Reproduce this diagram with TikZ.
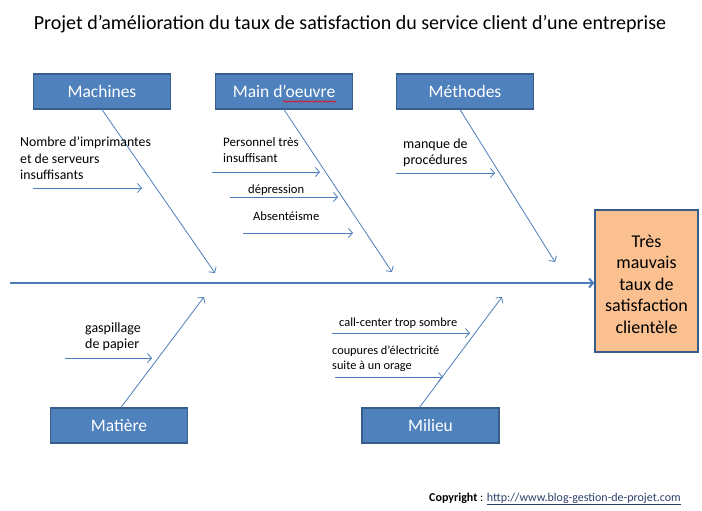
\documentclass[tikz,border=0pt]{standalone}
\usepackage{fontspec}
\setmainfont{Carlito}
\usetikzlibrary{arrows.meta,decorations.pathmorphing}
\definecolor{boxblue}{HTML}{4F81BD}
\definecolor{boxborder}{HTML}{385D8A}
\definecolor{bonecol}{HTML}{4A7EBB}
\definecolor{effectfill}{HTML}{FAC090}
\definecolor{urlcol}{HTML}{2B3F6B}
\begin{document}
\begin{tikzpicture}[x=1pt,y=-1pt,
  catbox/.style={draw=boxborder, line width=1.2pt, fill=boxblue, minimum width=137pt, minimum height=35pt, text=white, font=\fontsize{17.5}{20}\selectfont, inner sep=0pt},
  effbox/.style={draw=boxborder, line width=1.2pt, fill=effectfill, minimum width=103pt, minimum height=142pt, font=\fontsize{18}{21.4}\selectfont, inner sep=0pt},
  bone/.style={draw=bonecol, line width=0.8pt, -{Straight Barb[length=4pt,width=9pt]}},
  spinestyle/.style={draw=bonecol, line width=2pt, -{Straight Barb[length=4pt,width=9pt]}},
  causearrow/.style={draw=bonecol, line width=0.8pt, -{Straight Barb[length=4pt,width=9pt]}},
  causetxt/.style={align=left, anchor=north west, inner sep=0pt, text=black}
]
\useasboundingbox (0,0) rectangle (702,511);

% title
\node[font=\fontsize{20}{24}\selectfont] (title) at (350,24) {Projet d’amélioration du taux de satisfaction du service client d’une entreprise};

% category boxes
\node[catbox] (mach) at (102,91.5) {Machines};
\node[catbox] (mdo) at (284,91.5) {Main d’oeuvre};
\node[catbox] (meth) at (465,91.5) {Méthodes};
\node[catbox] (mat) at (119,425.5) {Matière};
\node[catbox] (mil) at (430.5,425.5) {Milieu};

% effect
\node[effbox] (eff) at (646.5,281) {\raisebox{-5pt}[\height][\depth]{\begin{tabular}{@{}c@{}}Très\\mauvais\\taux de\\satisfaction\\clientèle\end{tabular}}};

% spell-check underline
\draw[red, line width=0.5pt, decorate, decoration={snake, segment length=2.5pt, amplitude=0.7pt}] (283,101.5) -- (336,101.5);

% spine
\coordinate (spinestart) at (10,283);
\draw[spinestyle] (spinestart) -- (eff.west |- spinestart);

% bones
\coordinate (machend) at (215,273);
\coordinate (mdoend) at (392,272);
\coordinate (methend) at (555,262);
\coordinate (matend) at (204,297);
\coordinate (milend) at (502,297);
\draw[bone] (mach.south) -- (machend);
\draw[bone] (mdo.south) -- (mdoend);
\draw[bone] ([xshift=-5pt]meth.south) -- (methend);
\draw[bone] ([xshift=2pt]mat.north) -- (matend);
\draw[bone] ([xshift=-11pt]mil.north) -- (milend);

% causes - Machines
\node[causetxt, font=\fontsize{13.8}{16.5}\selectfont] (c1) at (20,137) {Nombre d'imprimantes\\et de serveurs\\insuffisants};
\coordinate (c1a) at (33,188); \coordinate (c1b) at (142,188);
\draw[causearrow] (c1a) -- (c1b);

% causes - Main d'oeuvre
\node[causetxt, font=\fontsize{13}{16}\selectfont] (c2) at (223,137) {Personnel très\\insuffisant};
\coordinate (c2a) at (212,172); \coordinate (c2b) at (320,172);
\draw[causearrow] (c2a) -- (c2b);
\node[causetxt, font=\fontsize{12.6}{14}\selectfont] (c3) at (248,185) {dépression};
\coordinate (c3a) at (230,197); \coordinate (c3b) at (338,197);
\draw[causearrow] (c3a) -- (c3b);
\node[causetxt, font=\fontsize{12.6}{14}\selectfont] (c4) at (253,212) {Absentéisme};
\coordinate (c4a) at (243,233); \coordinate (c4b) at (353,233);
\draw[causearrow] (c4a) -- (c4b);

% causes - Méthodes
\node[causetxt, font=\fontsize{14}{16}\selectfont] (c5) at (403,139) {manque de\\procédures};
\coordinate (c5a) at (396,173); \coordinate (c5b) at (495,173);
\draw[causearrow] (c5a) -- (c5b);

% causes - Matière
\node[causetxt, font=\fontsize{14}{16}\selectfont] (c6) at (85,323) {gaspillage\\de papier};
\coordinate (c6a) at (65,358); \coordinate (c6b) at (152,358);
\draw[causearrow] (c6a) -- (c6b);

% causes - Milieu
\node[causetxt, font=\fontsize{12.4}{14}\selectfont] (c7) at (339,318) {call-center trop sombre};
\coordinate (c7a) at (332,333); \coordinate (c7b) at (470,333);
\draw[causearrow] (c7a) -- (c7b);
\node[causetxt, font=\fontsize{12.3}{14.5}\selectfont] (c8) at (332,346) {coupures d'électricité\\suite à un orage};
\coordinate (c8a) at (335,377); \coordinate (c8b) at (443,377);
\draw[causearrow] (c8a) -- (c8b);

% copyright
\node[anchor=west, inner sep=0pt, font=\fontsize{12}{14}\selectfont] (copy) at (429,499) {\textbf{Copyright} : \textcolor{urlcol}{\underline{http://www.blog-gestion-de-projet.com}}};
\end{tikzpicture}
\end{document}
